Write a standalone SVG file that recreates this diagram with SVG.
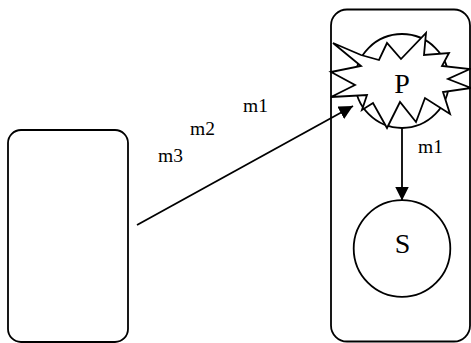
<svg xmlns="http://www.w3.org/2000/svg" width="471" height="343" viewBox="0 0 471 343">
  <style>
    .box { fill: none; stroke: #000; stroke-width: 1.8; }
    .shape { fill: #fff; stroke: #000; stroke-width: 1.8; stroke-linejoin: miter; }
    .edge { fill: none; stroke: #000; stroke-width: 1.8; }
    .lbl { font-family: "Liberation Serif", "Times New Roman", serif; font-size: 19.5px; fill: #000; }
    .big { font-family: "Liberation Serif", "Times New Roman", serif; font-size: 28px; fill: #000; text-anchor: middle; }
  </style>
  <defs>
    <marker id="arrow" viewBox="0 0 14 14" refX="14" refY="7" markerWidth="14" markerHeight="14" markerUnits="userSpaceOnUse" orient="auto">
      <path d="M0,0 L14,7 L0,14 Z" fill="#000"/>
    </marker>
  </defs>

  <g id="sender">
    <rect class="box" x="8" y="130" width="120" height="212" rx="13"/>
  </g>

  <g id="container">
    <rect class="box" x="331" y="9.5" width="139" height="332" rx="16"/>
  </g>

  <g id="node-p">
    <circle class="shape" cx="402" cy="81" r="47"/>
    <polygon class="shape" points="333,43 361,55 379,60 387,43 401,59 426,33 424,55 449,53 442,66 470,69 448,79 471,88 443,92 450,114 425,98 416,122 400,102 387,128 373,103 362,110 367,95 331,97 355,85 331,72 361,66"/>
    <text class="big" x="402" y="93">P</text>
  </g>

  <g id="node-s">
    <circle class="shape" cx="402" cy="248.5" r="48.3"/>
    <text class="big" x="402.5" y="253">S</text>
  </g>

  <g id="connectors">
    <line class="edge" x1="137" y1="225" x2="353" y2="106" marker-end="url(#arrow)"/>
    <line class="edge" x1="402" y1="128" x2="402" y2="200.5" marker-end="url(#arrow)"/>
  </g>

  <g id="labels">
    <text class="lbl" x="243" y="112">m1</text>
    <text class="lbl" x="190" y="135">m2</text>
    <text class="lbl" x="158" y="162">m3</text>
    <text class="lbl" x="418" y="153">m1</text>
  </g>
</svg>
